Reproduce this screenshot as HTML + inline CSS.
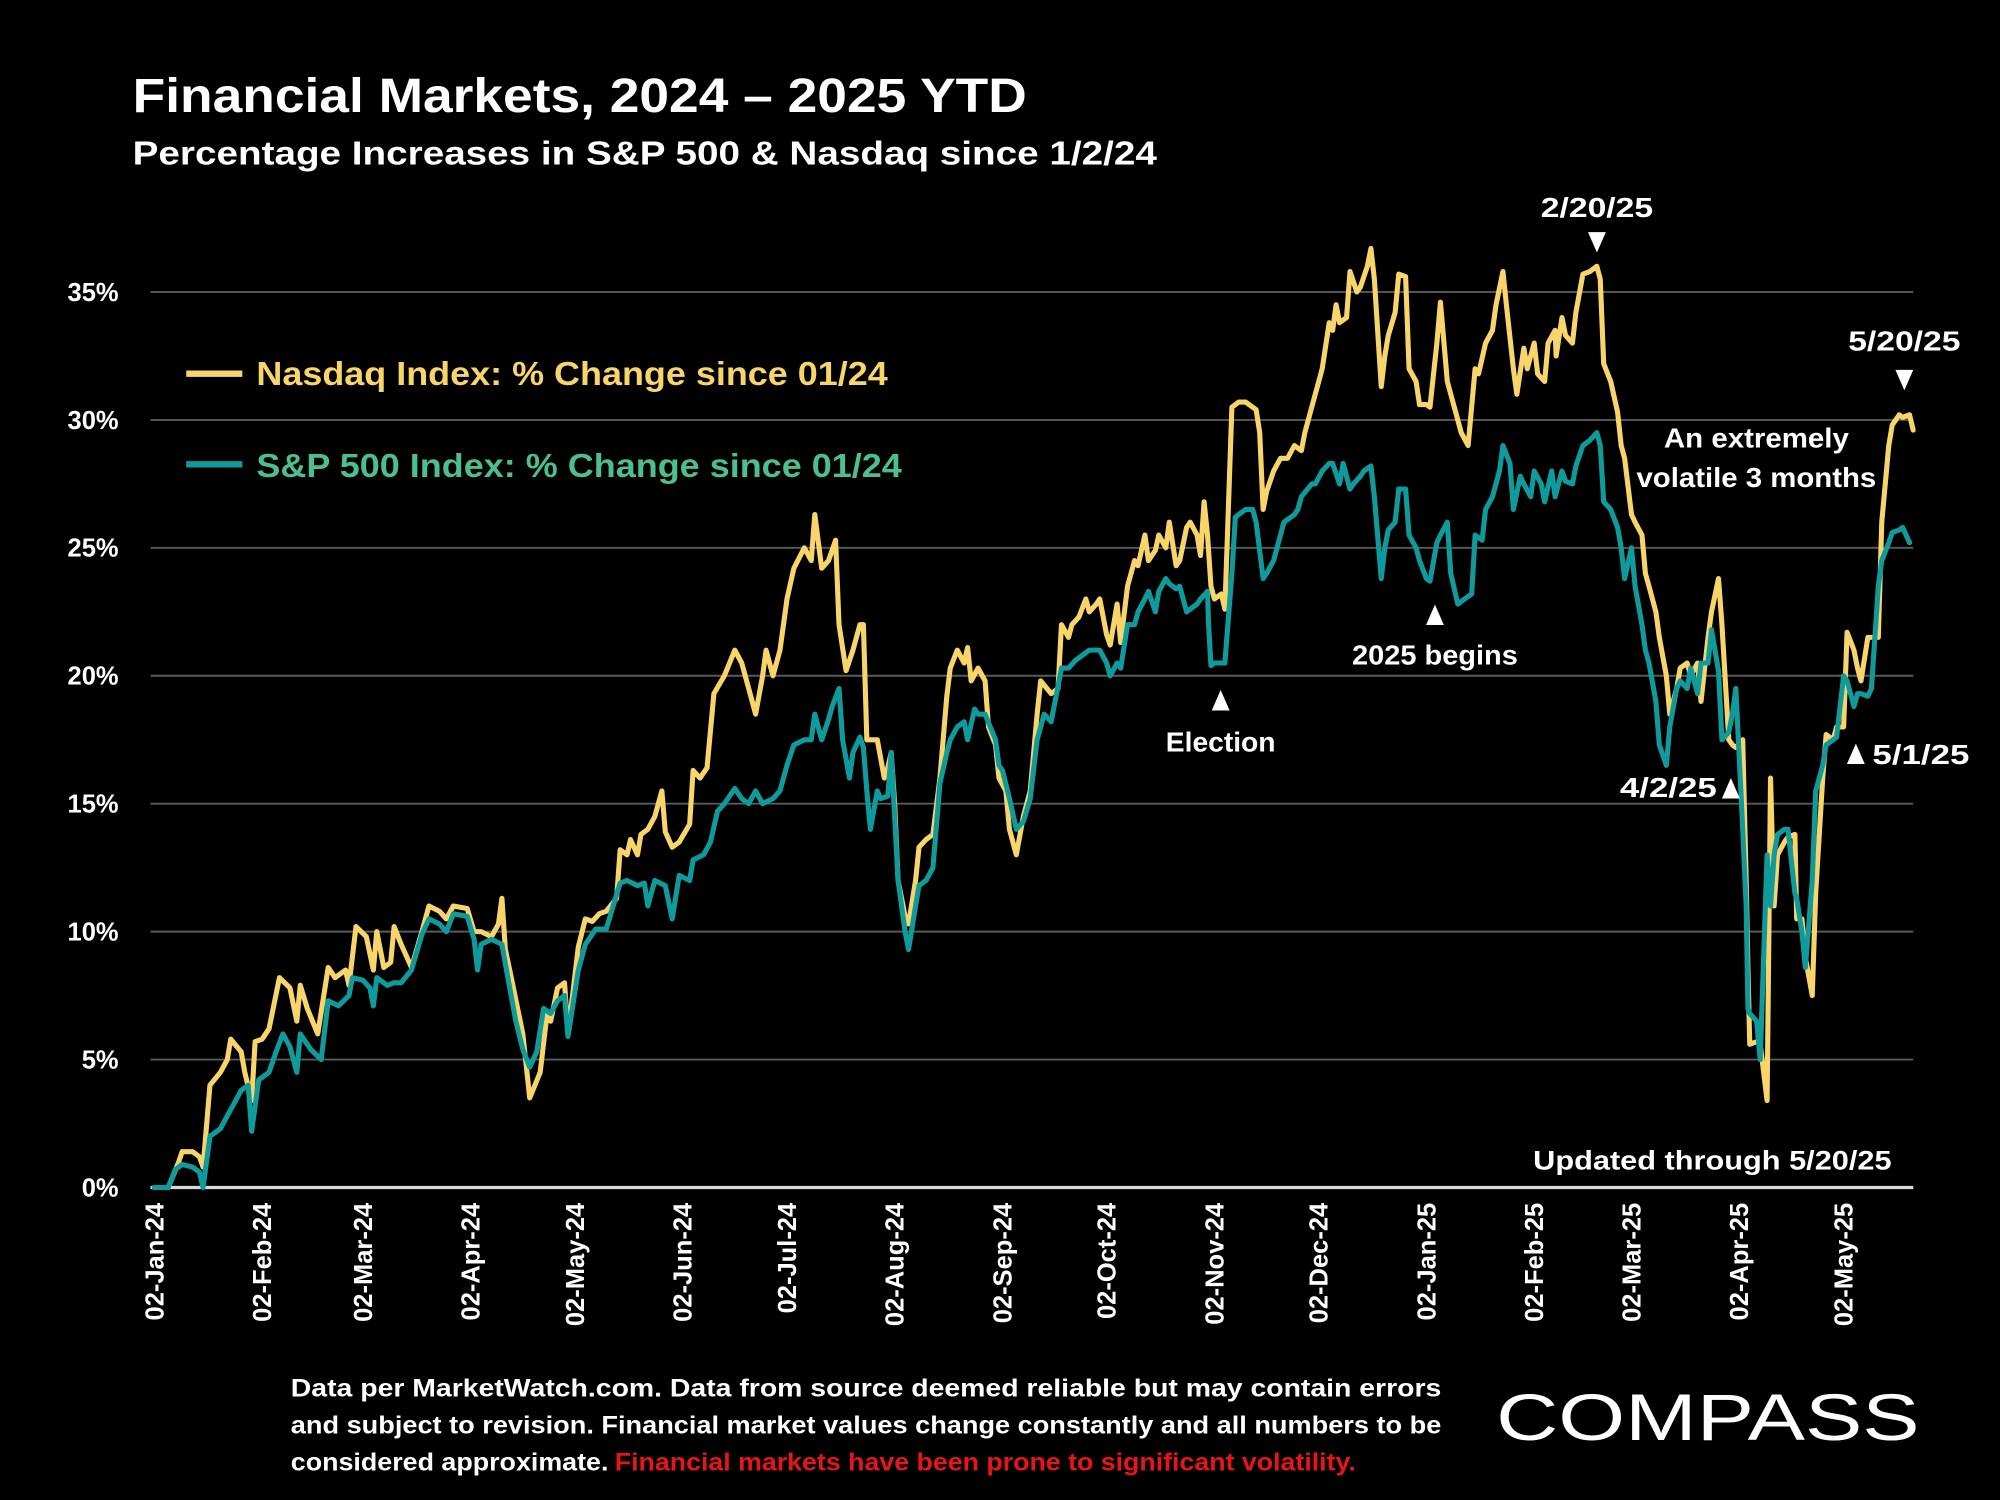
<!DOCTYPE html>
<html><head><meta charset="utf-8"><style>
html,body{margin:0;padding:0;background:#000;width:2000px;height:1500px;overflow:hidden}
svg{display:block}
text{font-family:"Liberation Sans",sans-serif;font-weight:bold;fill:#fff}
</style></head><body>
<svg id="chart" width="2000" height="1500" viewBox="0 0 1568 1176" preserveAspectRatio="none" xmlns="http://www.w3.org/2000/svg">
<rect x="0" y="0" width="1568" height="1176" fill="#000"/>
<text x="104" y="88" font-size="38" textLength="701" lengthAdjust="spacingAndGlyphs">Financial Markets, 2024 – 2025 YTD</text>
<text x="104" y="129" font-size="26" textLength="803" lengthAdjust="spacingAndGlyphs">Percentage Increases in S&amp;P 500 &amp; Nasdaq since 1/2/24</text>
<g id="grid"></g><g id="yticks"></g><g id="xticks"></g><g id="series"></g>
<g>
<line x1="146" y1="293" x2="190" y2="293" stroke="#f8d56b" stroke-width="5"/>
<text x="201" y="302" font-size="26" style="fill:#f8d56b" textLength="495" lengthAdjust="spacingAndGlyphs">Nasdaq Index: % Change since 01/24</text>
<line x1="146" y1="364" x2="190" y2="364" stroke="#0f9b9b" stroke-width="5"/>
<text x="201" y="374" font-size="26" style="fill:#4cbf8f" textLength="506" lengthAdjust="spacingAndGlyphs">S&amp;P 500 Index: % Change since 01/24</text>
</g>
<g font-size="22">
<text x="1252" y="170" text-anchor="middle" font-size="22" textLength="88" lengthAdjust="spacingAndGlyphs">2/20/25</text>
<polygon points="1245,182 1259,182 1252,198" fill="#fff"/>
<text x="1493" y="275" text-anchor="middle" font-size="22" textLength="88" lengthAdjust="spacingAndGlyphs">5/20/25</text>
<polygon points="1486,290 1500,290 1493,306" fill="#fff"/>
<text x="1377" y="351" text-anchor="middle" font-size="22" textLength="145" lengthAdjust="spacingAndGlyphs">An extremely</text>
<text x="1377" y="382" text-anchor="middle" font-size="22" textLength="188" lengthAdjust="spacingAndGlyphs">volatile 3 months</text>
<polygon points="1118,490 1132,490 1125,474" fill="#fff"/>
<text x="1125" y="521" text-anchor="middle" font-size="22" textLength="130" lengthAdjust="spacingAndGlyphs">2025 begins</text>
<polygon points="950,557 964,557 957,541" fill="#fff"/>
<text x="957" y="589" text-anchor="middle" font-size="22" textLength="86" lengthAdjust="spacingAndGlyphs">Election</text>
<text x="1346" y="625" text-anchor="end" font-size="22" textLength="76" lengthAdjust="spacingAndGlyphs">4/2/25</text>
<polygon points="1350,626 1364,626 1357,610" fill="#fff"/>
<polygon points="1448,599 1462,599 1455,583" fill="#fff"/>
<text x="1468" y="599" font-size="22" textLength="76" lengthAdjust="spacingAndGlyphs">5/1/25</text>
<text x="1483" y="917" text-anchor="end" font-size="21" textLength="281" lengthAdjust="spacingAndGlyphs">Updated through 5/20/25</text>
</g>
<g font-size="19.5">
<text x="228" y="1095" font-size="19.5" textLength="902" lengthAdjust="spacingAndGlyphs">Data per MarketWatch.com. Data from source deemed reliable but may contain errors</text>
<text x="228" y="1124" font-size="19.5" textLength="902" lengthAdjust="spacingAndGlyphs">and subject to revision. Financial market values change constantly and all numbers to be</text>
<text x="228" y="1153" font-size="19.5" textLength="249" lengthAdjust="spacingAndGlyphs">considered approximate.</text>
<text x="482" y="1153" font-size="19.5" style="fill:#e8141a" textLength="581" lengthAdjust="spacingAndGlyphs">Financial markets have been prone to significant volatility.</text>
</g>
<text x="1173" y="1129" font-size="52" style="font-weight:normal" textLength="332" lengthAdjust="spacingAndGlyphs">COMPASS</text>
</svg>
<script>
const yTicks = [0, 5, 10, 15, 20, 25, 30, 35];
const xTickDays = [0, 31, 60, 91, 121, 152, 182, 213, 244, 274, 305, 335, 366, 397, 425, 456, 486];
const xTickLabels = ["02-Jan-24","02-Feb-24","02-Mar-24","02-Apr-24","02-May-24","02-Jun-24","02-Jul-24","02-Aug-24","02-Sep-24","02-Oct-24","02-Nov-24","02-Dec-24","02-Jan-25","02-Feb-25","02-Mar-25","02-Apr-25","02-May-25"];
const nasdaqDays = [0,4,7,8,11,13,14,16,19,21,22,25,26,28,29,31,33,36,39,41,42,44,47,50,52,55,56,58,61,63,64,66,68,69,71,74,77,79,82,84,86,90,92,94,97,99,100,101,103,106,108,111,113,114,116,118,119,122,124,126,128,130,133,134,136,137,139,140,142,144,146,147,149,151,154,155,157,159,161,164,167,169,171,173,175,176,178,180,182,184,187,189,190,192,194,196,197,199,201,203,204,205,207,208,210,211,212,213,214,216,217,219,220,222,224,226,228,229,231,233,234,235,237,239,240,242,243,245,246,248,250,252,254,255,258,260,261,263,264,266,268,269,271,272,274,275,277,278,280,282,283,285,286,288,289,291,292,294,295,297,298,300,301,302,303,304,305,307,308,310,312,314,317,318,319,320,322,324,326,328,330,331,333,335,336,338,339,340,341,343,344,346,347,349,350,351,353,354,355,357,358,360,361,363,364,366,367,369,370,372,373,375,376,378,380,381,383,385,386,388,389,391,392,394,395,397,398,400,401,403,403.3,405,406,408,409,411,413,415,416,417,419,421,422,423,425,426,428,429,430,432,433,435,436,438,439,441,442,444,445,447,448,450,451,453,454,455,457,458,458.5,459,461,462,464,465,466,467,469,470,472,472.5,474,475,477,478,480,481,483,484,486,487,489,490,491,493,494,496,497,499,500,502,503,505,506];
const nasdaqValues = [0,0,1.0,1.4,1.4,1.2,0.8,4.0,4.5,5.0,5.8,5.3,4.5,3.4,5.7,5.8,6.2,8.2,7.8,6.5,7.9,7.0,6.0,8.6,8.2,8.5,7.9,10.2,9.8,8.5,10.0,8.6,8.8,10.2,9.5,8.6,10.0,11.0,10.8,10.5,11.0,10.9,10.0,10.0,9.8,10.3,11.3,9.3,8.0,6.0,3.5,4.5,6.8,6.5,7.8,8.0,6.0,9.4,10.5,10.4,10.7,10.8,11.3,13.2,13.0,13.6,13.0,13.8,14.0,14.5,15.5,13.9,13.3,13.5,14.2,16.3,16.0,16.4,19.3,20.0,21.0,20.5,19.5,18.5,20.0,21.0,20.0,21.0,23.0,24.2,25.0,24.5,26.3,24.2,24.5,25.3,22.0,20.2,21.0,22.0,22.0,17.5,17.5,17.5,16.0,16.4,17.0,15.0,12.0,10.6,10.3,12.0,13.3,13.6,13.8,16.0,19.2,20.3,21.0,20.5,21.1,19.8,20.3,19.8,18.0,17.3,16.0,15.5,14.0,13.0,14.5,15.5,18.5,19.8,19.3,19.5,22.0,21.5,22.0,22.3,23.0,22.5,22.8,23.0,21.6,21.2,22.8,21.3,23.5,24.5,24.3,25.5,24.5,24.9,25.5,25.0,26.0,24.3,24.5,25.8,26.0,25.5,24.7,26.8,25.5,23.5,23.0,23.2,22.6,30.5,30.7,30.7,30.4,29.5,26.5,27.2,28.0,28.5,28.5,29.0,28.8,29.5,30.5,31.5,32.0,33.8,33.5,34.5,33.8,34.0,35.8,35.0,35.2,36.0,36.7,35.5,31.3,32.5,33.3,34.2,35.7,35.6,32.0,31.5,30.6,30.6,30.5,33.0,34.6,31.5,31.0,30.0,29.5,29.0,32.0,31.8,33.0,33.5,34.5,35.8,34.5,32.0,31.0,32.8,32.0,33.0,31.8,31.5,33.0,33.5,32.5,34.0,33.3,33.0,34.2,35.7,35.8,36.0,35.5,32.2,31.5,30.3,29.0,28.5,26.3,26.0,25.5,24.0,23.5,22.5,21.5,20.0,18.5,19.5,20.3,20.5,20.0,20.5,19.0,21.5,22.5,23.8,22.0,17.5,17.3,17.2,17.5,12.0,8.5,5.6,5.7,5.6,3.4,16.0,11.0,13.0,13.5,13.7,13.8,10.5,10.5,9.0,7.5,11.5,16.0,17.7,17.5,18.0,18.0,21.7,21.0,20.3,19.8,21.5,21.5,21.5,26.0,29.0,29.8,30.2,30.1,30.2,29.6];
const spDays = [0,4,6,8,11,13,14,16,19,21,23,25,27,28,30,33,35,37,39,41,42,45,48,50,53,56,57,60,62,63,64,67,69,71,74,77,79,82,84,86,90,92,93,94,97,100,102,104,106,108,110,112,114,116,118,119,122,124,127,130,132,134,136,139,141,142,144,147,149,151,154,155,158,160,162,164,167,169,171,173,175,178,180,182,184,187,189,190,192,194,195,197,198,200,201,203,204,205,206,208,209,211,212,213,214,216,217,219,220,222,224,226,228,229,231,233,234,236,237,239,242,243,244,246,248,250,252,254,256,258,261,263,265,267,269,271,272,274,275,277,278,280,282,283,285,286,288,289,291,292,294,295,297,298,300,301,303,303.3,304,305,307,308,310,311,314,316,317,319,320,322,323,325,328,329,330,333,334,336,338,339,341,342,344,345,347,348,350,351,353,354,355,357,358,360,361,363,364,366,367,369,370,372,373,375,377,379,380,382,383,385,387,388,390,391,393,394,396,397,399,400,402,403,405,406,408,409,411,413,415,416,417,419,421,422,423,425,426,428,429,430,432,433,435,436,438,439,441,442,444,445,447,448,450,451,453,454,455,457,458,458.5,459,461,462,464,465,466,467,469,470,472,472.5,474,475,477,478,480,481,483,484,486,487,489,490,491,493,494,496,497,499,500,502,503,505,506];
const spValues = [0,0,0.7,0.9,0.8,0.6,0.0,2.0,2.3,2.8,3.3,3.8,4.0,2.2,4.2,4.5,5.3,6.0,5.5,4.5,6.0,5.4,5.0,7.3,7.1,7.5,8.2,8.1,7.8,7.1,8.2,7.9,8.0,8.0,8.5,9.9,10.5,10.3,10.0,10.7,10.6,9.7,8.5,9.5,9.7,9.5,8.0,6.5,5.4,4.7,5.3,7.0,6.8,7.3,7.5,5.9,8.5,9.5,10.1,10.1,11.0,11.9,12.0,11.8,11.9,11.0,12.0,11.8,10.5,12.2,12.0,12.8,13.0,13.5,14.7,15.0,15.6,15.2,15.0,15.5,15.0,15.2,15.5,16.5,17.3,17.5,17.5,18.5,17.5,18.3,18.8,19.5,17.5,16.0,17.0,17.6,17.2,15.5,14.0,15.5,15.2,15.3,17.0,14.5,12.0,10.0,9.3,11.0,11.8,12.0,12.5,15.8,17.0,17.5,18.0,18.2,17.5,18.7,18.5,18.5,17.5,16.5,16.3,15.2,14.0,14.3,15.2,17.5,18.5,18.2,20.3,20.3,20.6,20.8,21.0,21.0,21.0,20.5,20.0,20.5,20.3,22.0,22.0,22.5,23.0,23.3,22.5,23.3,23.8,23.6,23.4,23.5,22.5,22.6,22.8,23.0,23.3,22.0,20.4,20.5,20.5,20.5,24.0,26.2,26.5,26.5,26.0,23.8,24.0,24.5,25.0,26.0,26.3,26.5,27.0,27.5,27.5,28.0,28.3,28.3,27.5,28.3,27.3,27.5,27.8,28.0,28.2,27.0,23.8,25.0,25.7,26.0,27.3,27.3,25.5,25.0,24.5,23.8,23.7,25.2,25.5,26.0,24.0,22.8,23.0,23.2,25.5,25.3,26.5,27.0,28.0,29.0,28.3,26.5,27.8,27.5,27.0,28.0,27.5,26.8,28.0,27.0,28.0,27.6,27.5,28.2,29.0,29.2,29.5,29.0,26.8,26.5,25.8,25.0,23.8,25.0,23.5,22.0,21.0,20.5,19.0,17.3,16.5,18.0,19.5,19.8,19.5,20.3,19.3,20.5,20.5,21.8,20.2,17.5,17.8,18.5,19.5,14.0,11.0,7.0,6.8,6.5,5.0,13.0,11.0,13.0,13.8,14.0,14.0,11.5,11.3,10.0,8.6,12.0,15.5,16.5,17.3,17.5,17.6,20.0,19.8,18.8,19.3,19.3,19.2,19.5,23.5,24.5,25.2,25.6,25.7,25.8,25.2];

const NS = "http://www.w3.org/2000/svg";
const X0 = 121, DAYPX = 2.725, Y0 = 931, PCTPX = 20.06, XR = 1500;
function xScale(d){ return X0 + d * DAYPX; }
function yScale(v){ return Y0 - v * PCTPX; }
function mk(tag, attrs, parent){ const e = document.createElementNS(NS, tag); for (const k in attrs) e.setAttribute(k, attrs[k]); parent.appendChild(e); return e; }

const grid = document.getElementById('grid');
const yt = document.getElementById('yticks');
yTicks.forEach(v => {
  const ln = mk('line', {x1: 118, x2: XR, y1: yScale(v), y2: yScale(v), stroke: v === 0 ? '#d9d9d9' : '#5a5a5a', 'stroke-width': v === 0 ? 2.5 : 1.5}, grid);
  
  
  const t = mk('text', {x: 93, y: yScale(v) + 7, 'text-anchor': 'end', 'font-size': 20}, yt);
  t.textContent = v + '%';
  
  
});
const xt = document.getElementById('xticks');
xTickDays.forEach((d, i) => {
  const x = xScale(d) + 7;
  const t = mk('text', {x: x, y: 943, 'text-anchor': 'end', 'font-size': 20, transform: 'rotate(-90 ' + x + ' 943)'}, xt);
  t.textContent = xTickLabels[i];
  
  
});
const sg = document.getElementById('series');
function drawLine(days, vals, color, name){
  const pts = days.map((d, i) => xScale(d).toFixed(1) + ',' + yScale(vals[i]).toFixed(1)).join(' ');
  const pl = mk('polyline', {points: pts, fill: 'none', stroke: color, 'stroke-width': 4, 'stroke-linejoin': 'round', 'stroke-linecap': 'round'}, sg);
  
  
}
drawLine(nasdaqDays, nasdaqValues, '#f8d56b', 'nasdaq-line');
drawLine(spDays, spValues, '#0f9b9b', 'sp500-line');
</script>
</body></html>
